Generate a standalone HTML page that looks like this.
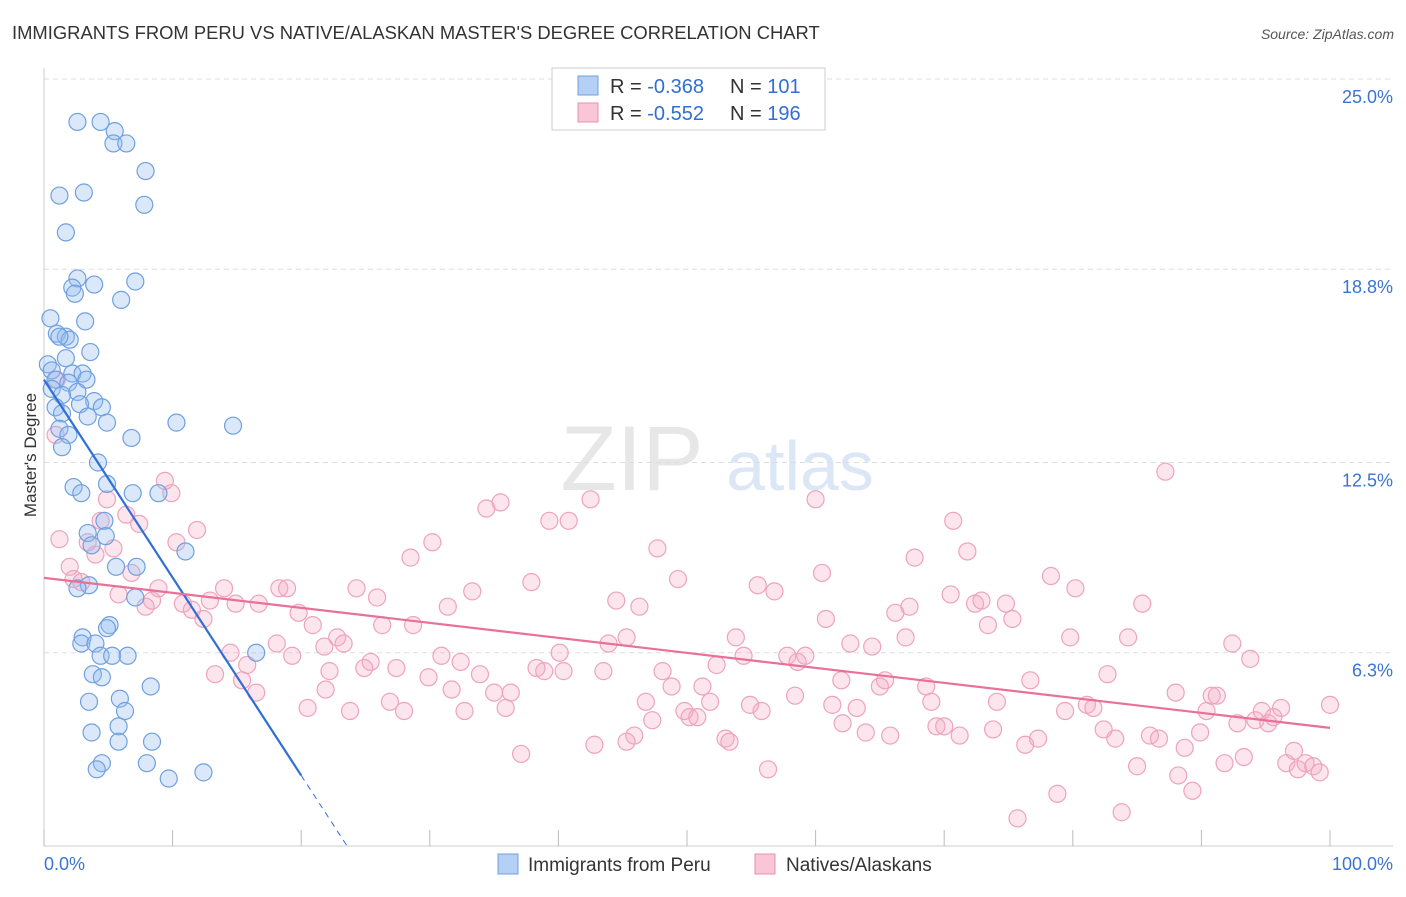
<!DOCTYPE html>
<html><head><meta charset="utf-8"><style>
body{margin:0;background:#fff;font-family:"Liberation Sans",sans-serif;}
svg text{font-family:"Liberation Sans",sans-serif;}
</style></head><body>
<svg id="chart" width="1406" height="892">
<text x="12" y="39" font-size="18.4" fill="#333" style="letter-spacing:0">IMMIGRANTS FROM PERU VS NATIVE/ALASKAN MASTER'S DEGREE CORRELATION CHART</text>
<text x="1394" y="39" font-size="14" fill="#555" font-style="italic" text-anchor="end">Source: ZipAtlas.com</text>
<text x="36" y="455" font-size="17" fill="#333" transform="rotate(-90 36 455)" text-anchor="middle">Master's Degree</text>
<g opacity="0.35"><text x="632" y="490" font-size="92" fill="#bbb" font-family="Liberation Serif" text-anchor="middle">ZIP</text><text x="800" y="490" font-size="70" fill="#9bbbe8" text-anchor="middle">atlas</text></g>
<g id="grid"></g><g id="pts"></g><g id="lines"></g>
<g>
<rect x="552" y="68" width="273" height="62" fill="#fff" stroke="#ccc"/>
<rect x="578" y="76" width="20" height="19" fill="#b5d0f5" stroke="#6fa0e0"/>
<rect x="578" y="103" width="20" height="19" fill="#f8c6d6" stroke="#ea8fb0"/>
<text x="610" y="93" font-size="20" fill="#333">R = <tspan fill="#2f6fd6">-0.368</tspan></text>
<text x="730" y="93" font-size="20" fill="#333">N = <tspan fill="#2f6fd6">101</tspan></text>
<text x="610" y="120" font-size="20" fill="#333">R = <tspan fill="#2f6fd6">-0.552</tspan></text>
<text x="730" y="120" font-size="20" fill="#333">N = <tspan fill="#2f6fd6">196</tspan></text>
</g>
<g>
<rect x="498" y="854" width="20" height="20" fill="#b5d0f5" stroke="#6fa0e0"/>
<text x="528" y="871" font-size="19" fill="#333">Immigrants from Peru</text>
<rect x="755" y="854" width="20" height="20" fill="#f8c6d6" stroke="#ea8fb0"/>
<text x="786" y="871" font-size="19" fill="#333">Natives/Alaskans</text>
</g>
</svg>
<script>
const yTicks=[25,18.8,12.5,6.3];
const yTickLabels=["25.0%","18.8%","12.5%","6.3%"];
const xTicks=[0,10,20,30,40,50,60,70,80,90,100];
const blueX=[2.6,4.4,5.5,5.4,6.4,7.9,3.1,1.2,7.8,1.7,2.6,7.1,2.2,3.9,2.4,6.0,0.5,3.2,1.0,1.7,2.0,1.2,3.6,1.7,0.3,0.6,2.2,3.0,0.9,3.3,1.9,0.6,2.6,1.4,3.9,4.5,2.8,0.9,1.4,3.4,4.9,10.3,14.7,1.2,1.9,6.8,1.4,4.2,2.3,2.9,4.9,6.9,8.9,4.7,3.4,4.8,3.7,11.0,5.6,7.2,3.5,2.6,7.1,5.1,4.9,3.0,2.9,4.0,4.4,5.3,6.5,16.5,3.8,4.5,8.3,3.5,5.9,6.3,5.8,3.7,8.4,5.8,8.0,4.5,4.1,9.7,12.4];
const blueY=[23.6,23.6,23.3,22.9,22.9,22.0,21.3,21.2,20.9,20.0,18.5,18.4,18.2,18.3,18.0,17.8,17.2,17.1,16.7,16.6,16.5,16.6,16.1,15.9,15.7,15.5,15.4,15.4,15.2,15.2,15.1,14.9,14.8,14.7,14.5,14.3,14.4,14.3,14.1,14.0,13.8,13.8,13.7,13.6,13.4,13.3,13.0,12.5,11.7,11.5,11.8,11.5,11.5,10.6,10.2,10.1,9.8,9.6,9.1,9.1,8.5,8.4,8.1,7.2,7.1,6.8,6.6,6.6,6.2,6.2,6.2,6.3,5.6,5.5,5.2,4.7,4.8,4.4,3.9,3.7,3.4,3.4,2.7,2.7,2.5,2.2,2.4];
const pinkX=[1.2,4.4,6.4,7.4,9.4,9.9,4.9,11.9,10.3,3.4,5.4,2.0,4.0,2.3,2.9,6.8,5.8,8.9,14.0,8.4,7.9,10.8,11.5,12.9,14.9,16.7,18.3,18.9,12.4,20.9,19.8,14.5,13.3,15.8,15.4,16.5,18.1,19.3,21.8,22.2,21.9,20.5,22.8,23.3,24.3,25.9,25.4,24.9,23.8,26.3,27.4,28.7,29.9,26.9,28.0,28.5,30.2,31.4,33.3,30.9,32.4,31.7,32.7,33.9,34.4,35.5,35.0,36.3,35.9,37.1,37.9,38.3,38.9,39.3,40.8,40.1,40.4,42.5,42.8,43.5,43.9,44.5,45.3,45.9,45.3,46.3,46.8,47.3,47.7,48.1,48.8,49.3,49.8,50.2,50.8,51.2,51.8,52.3,53.0,53.3,53.8,54.4,54.9,55.5,55.8,56.3,56.8,57.8,58.4,58.6,59.2,60.0,60.5,60.8,61.3,62.0,62.1,62.7,63.2,63.9,64.4,65.0,65.4,65.8,66.2,67.0,67.3,67.7,68.6,69.0,69.4,70.0,70.5,70.7,71.2,71.8,72.4,72.9,73.4,73.8,74.1,74.8,75.3,75.7,76.3,76.7,77.3,78.3,78.8,79.4,79.8,80.2,81.1,81.6,82.4,82.7,83.3,83.8,84.3,85.0,85.4,86.0,86.7,87.2,88.0,88.2,88.7,89.3,89.9,90.4,90.8,91.2,91.8,92.4,92.8,93.3,93.8,94.2,94.7,95.2,95.6,96.2,96.6,97.2,97.5,98.1,98.7,99.2,100,0.9,1.0];
const pinkY=[10.0,10.6,10.8,10.5,11.9,11.5,11.3,10.3,9.9,9.9,9.7,9.1,9.5,8.7,8.6,8.9,8.2,8.4,8.4,8.0,7.8,7.9,7.7,8.0,7.9,7.9,8.4,8.4,7.4,7.2,7.6,6.3,5.6,5.9,5.4,5.0,6.6,6.2,6.5,5.7,5.1,4.5,6.8,6.6,8.4,8.1,6.0,5.8,4.4,7.2,5.8,7.2,5.5,4.7,4.4,9.4,9.9,7.8,8.3,6.2,6.0,5.1,4.4,5.6,11.0,11.2,5.0,5.0,4.5,3.0,8.6,5.8,5.7,10.6,10.6,6.3,5.7,11.3,3.3,5.7,6.6,8.0,6.8,3.6,3.4,7.8,4.7,4.1,9.7,5.7,5.2,8.7,4.4,4.2,4.2,5.2,4.7,5.9,3.5,3.4,6.8,6.2,4.6,8.5,4.4,2.5,8.3,6.2,4.9,6.0,6.2,11.3,8.9,7.4,4.6,5.4,4.0,6.6,4.5,3.7,6.5,5.2,5.4,3.6,7.6,6.8,7.8,9.4,5.2,4.7,3.9,3.9,8.2,10.6,3.6,9.6,7.9,8.0,7.2,3.8,4.7,7.9,7.4,0.9,3.3,5.4,3.5,8.8,1.7,4.4,6.8,8.4,4.6,4.5,3.8,5.6,3.5,1.1,6.8,2.6,7.9,3.6,3.5,12.2,5.0,2.3,3.2,1.8,3.7,4.4,4.9,4.9,2.7,6.6,4.0,2.9,6.1,4.1,4.4,4.0,4.2,4.5,2.7,3.1,2.5,2.7,2.6,2.4,4.6,13.4,15.2];
const blueTrend=[15.2,-0.645];
const pinkTrend=[8.74,-0.0489];
const X=v=>44+v*12.86, Y=v=>846-v*30.68;
const NS='http://www.w3.org/2000/svg';
function mk(t,a,p){const e=document.createElementNS(NS,t);for(const k in a)e.setAttribute(k,a[k]);p.appendChild(e);return e;}
const g=document.getElementById('grid');
yTicks.forEach((t,i)=>{
 const l=mk('line',{x1:44,x2:1393,y1:Y(t),y2:Y(t),stroke:'#ddd','stroke-dasharray':'5,4'},g);
 
 
 const tx=mk('text',{x:1393,y:Y(t)+24,'font-size':18,fill:'#3a74d4','text-anchor':'end'},g);
 tx.textContent=yTickLabels[i];
 
 
});
mk('line',{x1:44,x2:44,y1:68,y2:846,stroke:'#ccc'},g);
mk('line',{x1:44,x2:1393,y1:846,y2:846,stroke:'#ccc'},g);
xTicks.forEach(t=>{const l=mk('line',{x1:X(t),x2:X(t),y1:830,y2:846,stroke:'#bbb'},g);
 
 });
let a=mk('text',{x:44,y:870,'font-size':18,fill:'#3a74d4'},g);a.textContent='0.0%';


a=mk('text',{x:1393,y:870,'font-size':18,fill:'#3a74d4','text-anchor':'end'},g);a.textContent='100.0%';


const P=document.getElementById('pts');
pinkX.forEach((x,i)=>{const c=mk('circle',{cx:X(x),cy:Y(pinkY[i]),r:8.5,fill:'rgba(245,170,195,0.3)',stroke:'#eea3bd','stroke-width':1.2},P);
 
 });
blueX.forEach((x,i)=>{const c=mk('circle',{cx:X(x),cy:Y(blueY[i]),r:8.5,fill:'rgba(150,190,240,0.35)',stroke:'#6fa0e0','stroke-width':1.2},P);
 
 });
const L=document.getElementById('lines');
const bEnd=20, bZero=-blueTrend[0]/blueTrend[1];
let ln=mk('line',{x1:X(0),y1:Y(blueTrend[0]),x2:X(bEnd),y2:Y(blueTrend[0]+blueTrend[1]*bEnd),stroke:'#2f6fd6','stroke-width':2.2},L);


ln=mk('line',{x1:X(bEnd),y1:Y(blueTrend[0]+blueTrend[1]*bEnd),x2:X(bZero),y2:Y(0),stroke:'#2f6fd6','stroke-width':1,'stroke-dasharray':'6,5'},L);


ln=mk('line',{x1:X(0),y1:Y(pinkTrend[0]),x2:X(100),y2:Y(pinkTrend[0]+pinkTrend[1]*100),stroke:'#e8709a','stroke-width':2.2},L);


</script>
</body></html>
